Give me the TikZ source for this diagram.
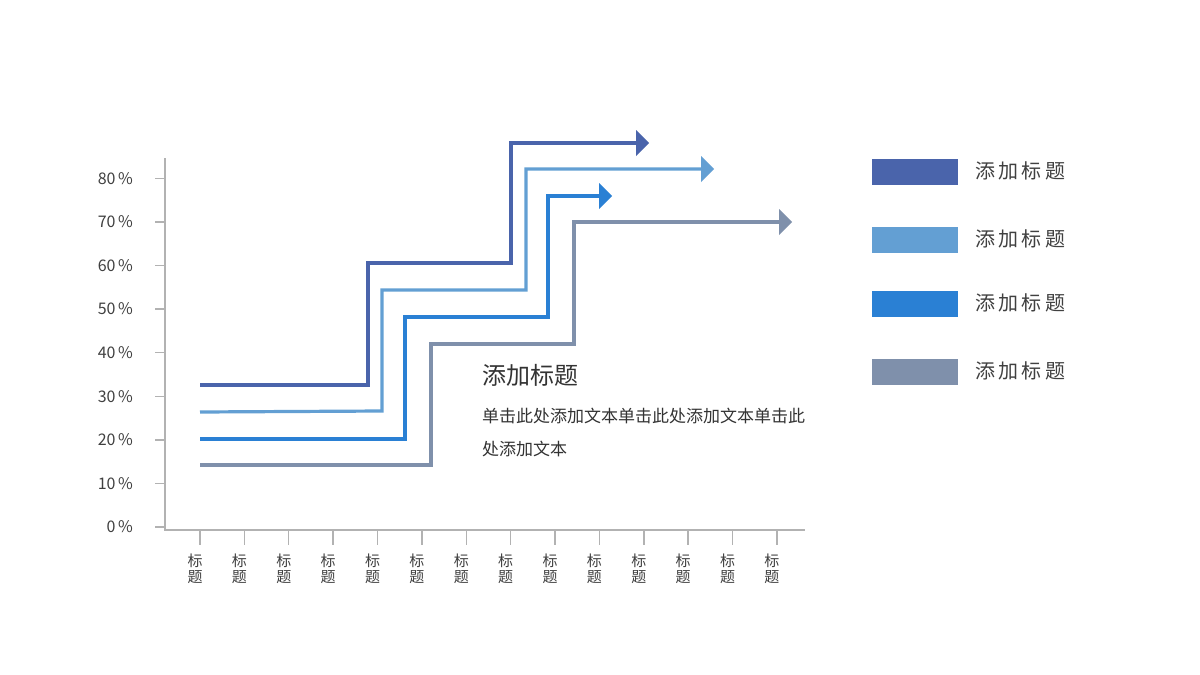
\documentclass[tikz,border=0pt]{standalone}
\usepackage{fontspec}
\setmainfont{Noto Sans CJK SC}
\begin{document}
\begin{tikzpicture}[x=0.5pt,y=-0.5pt,
  ax/.style={draw=gray!60,line width=0.7pt},
  stair/.style={line width=1.6pt},
  lab/.style={font=\fontsize{8}{9}\selectfont,text=black!75},
  leg/.style={font=\fontsize{10}{12}\selectfont,text=black!75,anchor=west}]
\definecolor{c1}{HTML}{4A64AB}
\definecolor{c2}{HTML}{639FD3}
\definecolor{c3}{HTML}{2A80D4}
\definecolor{c4}{HTML}{7F90AB}
\useasboundingbox (0,0) rectangle (1200,675);
\coordinate (o) at (165,530);
\coordinate (yt) at (165,158);
\coordinate (xe) at (805,530);
\draw[ax] (yt) -- (o) -- (xe);
\foreach \v [count=\i from 0] in {0,10,20,30,40,50,60,70,80}{
  \pgfmathsetmacro\yy{527-43.6*\i}
  \draw[ax] (155,\yy) -- (165,\yy);
  \node[lab,anchor=east] (yl\i) at (140,\yy) {\v\,\%};
}
\foreach \i in {0,...,13}{
  \pgfmathsetmacro\xx{200+44.38*\i}
  \draw[ax] (\xx,530) -- (\xx,545);
  \node[lab,align=center,font=\fontsize{7.5}{8}\selectfont] (xl\i) at (\xx-5,569) {标\\题};
}
\draw[stair,c1] (200,385) -- (368,385) -- (368,263) -- (511,263) -- (511,143) -- (636,143);
\fill[c1] (636,130) -- (649,143) -- (636,156) -- cycle;
\draw[stair,c2] (200,412) -- (382,411) -- (382,290) -- (526,290) -- (526,169) -- (701,169);
\fill[c2] (701,156) -- (714,169) -- (701,182) -- cycle;
\draw[stair,c3] (200,439) -- (405,439) -- (405,317) -- (548,317) -- (548,196) -- (599,196);
\fill[c3] (599,183) -- (612,196) -- (599,209) -- cycle;
\draw[stair,c4] (200,465) -- (431,465) -- (431,344) -- (574,344) -- (574,222) -- (779,222);
\fill[c4] (779,209) -- (792,222) -- (779,235) -- cycle;
\node[anchor=west,font=\fontsize{12}{14}\selectfont,text=black!80] (t) at (475,375) {添加标题};
\node[anchor=west,font=\fontsize{8.5}{10}\selectfont,text=black!80] (b1) at (475,416) {单击此处添加文本单击此处添加文本单击此};
\node[anchor=west,font=\fontsize{8.5}{10}\selectfont,text=black!80] (b2) at (475,449) {处添加文本};
\foreach \c/\y in {c1/172,c2/240,c3/304,c4/372}{
  \fill[\c] (872,\y-13) rectangle (958,\y+13);
  \node[leg] at (968,\y-1) {添\,加\,标\,题};
}
\end{tikzpicture}
\end{document}
